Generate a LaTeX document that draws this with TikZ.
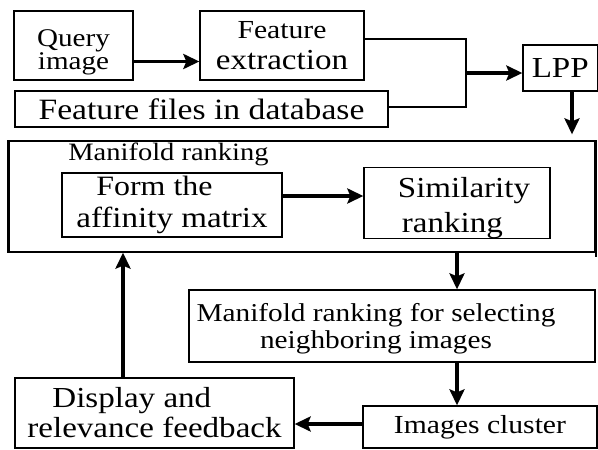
\documentclass[tikz,border=0pt]{standalone}
\usepackage{fontspec}
\setmainfont{Liberation Serif}[FakeStretch=1.14]
\usetikzlibrary{arrows.meta}

\newcommand\fsz[2]{\fontsize{#1}{#2}\selectfont}
\newcommand\upstrut[1]{\rule{0pt}{#1}}

\begin{document}
\begin{tikzpicture}[x=1pt,y=-1pt,
  box/.style={draw, line width=1.3pt, inner sep=0pt, align=center},
  flow/.style={line width=3.2pt, -{Stealth[length=16pt,width=15pt,inset=3pt]}},
  wire/.style={line width=1.3pt}]
\useasboundingbox (0,0) rectangle (598,450);

% top row: query, feature extraction, database files, LPP
\node[box, minimum width=119pt, minimum height=69pt, font=\fsz{25.5}{22}]
  (q) at (73.5,45.5) {\upstrut{30pt}Query\\image};
\node[box, minimum width=164pt, minimum height=69pt, font=\fsz{29}{31}]
  (fe) at (282,45.5) {{\fsz{26}{31}Feature}\\extraction};
\node[box, minimum width=373pt, minimum height=36pt, font=\fsz{29.5}{30}]
  (db) at (201.5,109) {Feature files in database};
\node[box, minimum width=74.5pt, minimum height=46pt, font=\fsz{29}{30}]
  (lpp) at (560.25,68) {LPP};

% manifold ranking block
\node[box, minimum width=586pt, minimum height=111pt] (big) at (302,196.5) {};
\draw[line width=3.5pt] (big.north west) -- (big.south west);
\draw[line width=2pt] (big.north east) -- ([yshift=-4pt]big.south east);
\node[anchor=base, font=\fsz{25}{25}] (mrlabel) at (168.5,160) {Manifold ranking};
\node[box, minimum width=220pt, minimum height=64pt, font=\fsz{29}{32}, align=left]
  (form) at (172,205) {\hspace*{20pt}{\fsz{28}{32}Form the}\\affinity matrix};
\node[box, minimum width=186pt, minimum height=70pt, font=\fsz{29}{35}, align=left]
  (sim) at (457,203) {\upstrut{30pt}\hspace*{14pt}Similarity\\\hspace*{18pt}ranking};

% lower part
\node[box, minimum width=406pt, minimum height=72pt, font=\fsz{25.7}{27}]
  (mrs) at (392,326) {\upstrut{24pt}Manifold ranking for selecting\hspace*{32pt}\\neighboring images\hspace*{32pt}};
\node[box, minimum width=234pt, minimum height=42pt, font=\fsz{26}{26}]
  (ic) at (480,427) {Images cluster};
\node[box, minimum width=279pt, minimum height=70pt, font=\fsz{29}{30}, align=left]
  (disp) at (154.5,413) {\hspace*{25pt}Display and\\relevance feedback};

% helper coordinates for connector heights and columns
\coordinate (qy) at (0,61.5);
\coordinate (fy) at (0,39);
\coordinate (dy) at (0,107);
\coordinate (j) at (466,73);
\coordinate (lx) at (572,0);
\coordinate (ay) at (0,196);
\coordinate (cy) at (0,424);
\coordinate (ux) at (123,0);

% connectors
\draw[flow] (q.east |- qy) -- (fe.west |- qy);
\draw[wire] (fe.east |- fy) -| (j |- dy) -- (db.east |- dy);
\draw[flow] (j) -- (lpp.west |- j);
\draw[flow, shorten >=6pt] (lpp.south -| lx) -- (big.north -| lx);
\draw[flow] (form.east |- ay) -- (sim.west |- ay);
\draw[flow] (big.south -| sim) -- (mrs.north -| sim);
\draw[flow] (mrs.south -| sim) -- (ic.north -| sim);
\draw[flow] (ic.west |- cy) -- (disp.east |- cy);
\draw[flow] (disp.north -| ux) -- (big.south -| ux);
\end{tikzpicture}
\end{document}
